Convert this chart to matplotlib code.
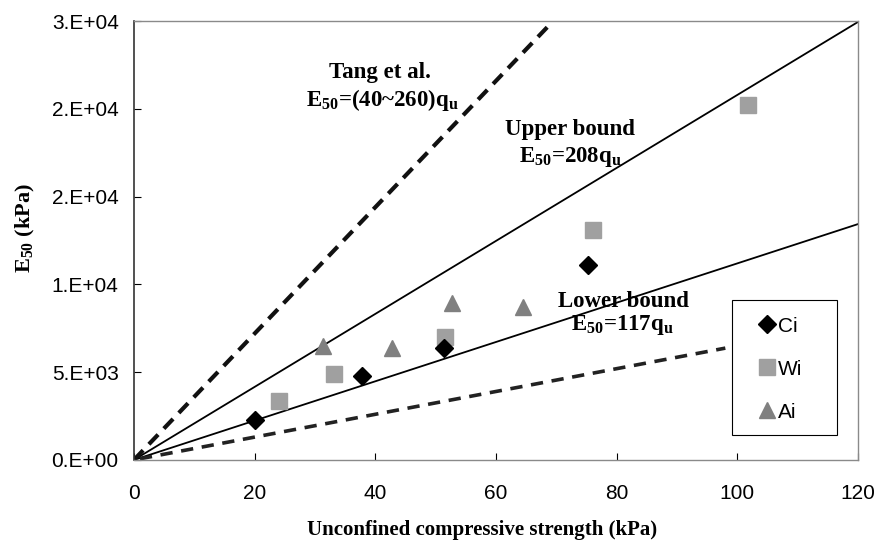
import math
import matplotlib
matplotlib.use('Agg')
import matplotlib.pyplot as plt
from matplotlib.patches import Rectangle
from matplotlib.ticker import FuncFormatter, MultipleLocator

# datos
ci_q = [20.0, 37.8, 51.4, 75.3]
ci_e = [2280, 4780, 6380, 11100]
wi_q = [24.1, 33.2, 51.6, 76.0, 101.7]
wi_e = [3360, 4900, 7000, 13100, 20200]
ai_q = [31.4, 42.8, 52.7, 64.5]
ai_e = [6490, 6380, 8940, 8710]

# rectas (pendiente, q final)
upper_slope, upper_end = 208, 120
lower_slope, lower_end = 112, 120
tang_hi_slope, tang_hi_end = 360, 69
tang_lo_slope, tang_lo_end = 65, 98

plt.rcParams['mathtext.fontset'] = 'custom'
plt.rcParams['mathtext.rm'] = 'Liberation Serif:bold'
plt.rcParams['mathtext.it'] = 'Liberation Serif:bold'
plt.rcParams['mathtext.bf'] = 'Liberation Serif:bold'

SANS = 'Liberation Sans'
SERIF = 'Liberation Serif'


def excel_sci(v, pos=None):
    '''
        Formato tipo Excel 0.E+00
    '''
    if v == 0:
        return '0.E+00'
    exp = int(math.floor(math.log10(abs(v))))
    mant = int(math.floor(v / 10 ** exp + 0.5))
    if mant == 10:
        mant, exp = 1, exp + 1
    return '%d.E+%02d' % (mant, exp)


fig = plt.figure(figsize=(8.81, 5.43), dpi=100)
ax = fig.add_axes([0.152, 0.153, 0.822, 0.808])

# rectas
ax.plot([0, upper_end], [0, upper_slope * upper_end], color='black', lw=1.3, zorder=2)
ax.plot([0, lower_end], [0, lower_slope * lower_end], color='black', lw=1.3, zorder=2)
ax.plot([0, tang_hi_end], [0, tang_hi_slope * tang_hi_end], color='#111111',
        lw=3.0, linestyle=(0, (3.2, 2.0)), zorder=2)
ax.plot([1, tang_lo_end], [tang_lo_slope * 1, tang_lo_slope * tang_lo_end],
        color='#222222', lw=2.6, linestyle=(0, (3.4, 2.4)), zorder=2)

# puntos
ax.plot(wi_q, wi_e, 's', color='#a0a0a0', markersize=11, linestyle='none',
        label='Wi', zorder=3)
ax.plot(ai_q, ai_e, '^', color='#808080', markersize=11, linestyle='none',
        label='Ai', zorder=3)
ax.plot(ci_q, ci_e, 'D', color='black', markersize=9, linestyle='none',
        label='Ci', zorder=4)

# textos
tkw = dict(family=SERIF, fontweight='bold', fontsize=16.5, ha='center', va='center')
ax.text(40.8, 22100, 'Tang et al.', **tkw)
ax.text(41.1, 20500, 'E$_{50}$=(40~260)q$_{u}$', **tkw)
ax.text(72.3, 18800, 'Upper bound', **tkw)
ax.text(72.4, 17250, 'E$_{50}$=208q$_{u}$', **tkw)
ax.text(81.1, 9000, 'Lower bound', **tkw)
ax.text(80.9, 7690, 'E$_{50}$=117q$_{u}$', **tkw)

ax.set_xlim(0, 120)
ax.set_ylim(0, 25000)
ax.xaxis.set_major_locator(MultipleLocator(20))
ax.yaxis.set_major_locator(MultipleLocator(5000))
ax.yaxis.set_major_formatter(FuncFormatter(excel_sci))
ax.tick_params(direction='in', length=5, width=0.8, labelsize=15)
ax.tick_params(axis='x', pad=17)
ax.tick_params(axis='y', pad=11)
for lab in ax.get_xticklabels() + ax.get_yticklabels():
    lab.set_family(SANS)

for side in ['top', 'right', 'bottom']:
    ax.spines[side].set_color('#8a8a8a')
    ax.spines[side].set_linewidth(1.0)
ax.spines['left'].set_color('#333333')
ax.spines['left'].set_linewidth(1.2)

ax.set_xlabel('Unconfined compressive strength (kPa)', family=SERIF,
              fontweight='bold', fontsize=15)
ax.xaxis.set_label_coords(0.481, -0.137)
ax.set_ylabel('E$_{50}$ (kPa)', family=SERIF, fontweight='bold', fontsize=16)
ax.yaxis.set_label_coords(-0.134, 0.528)

# leyenda con marco propio
handles, labels = ax.get_legend_handles_labels()
order = [2, 0, 1]
leg = ax.legend([handles[i] for i in order], [labels[i] for i in order],
                loc='center', bbox_to_anchor=(0.893, 0.207), frameon=False,
                prop={'family': SANS, 'size': 15}, handlelength=0.8,
                handletextpad=0.1, labelspacing=1.15, borderpad=0)
ax.add_patch(Rectangle((0.826, 0.057), 0.145, 0.307, transform=ax.transAxes,
                       facecolor='white', edgecolor='black', lw=0.8, zorder=5))
leg.set_zorder(6)

fig.savefig('out.png', dpi=100, facecolor='white')
